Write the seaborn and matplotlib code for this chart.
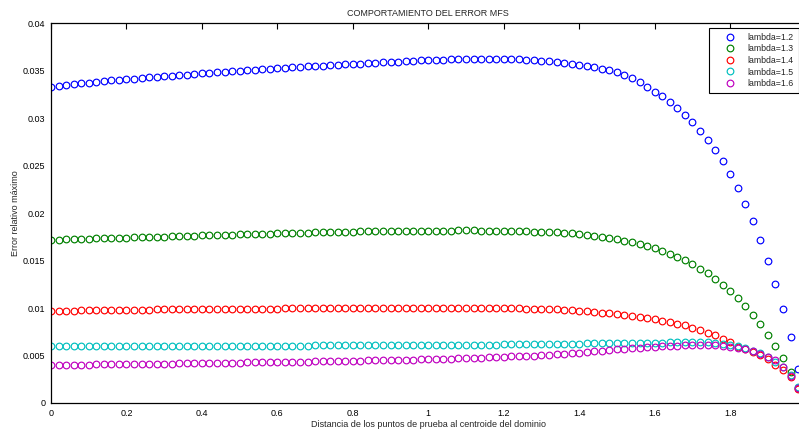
import numpy as np
import pandas as pd
import matplotlib
matplotlib.use("Agg")
import matplotlib.pyplot as plt
import seaborn as sns
from matplotlib.ticker import FormatStrFormatter, MultipleLocator

# Distance of the test points to the domain centroid (sampling grid)
distancia = np.linspace(0.0, 1.98, 100)

# Maximum relative error for each lambda
err_l12 = [
    0.03333, 0.03344, 0.03351, 0.03361, 0.03368, 0.03375, 0.03386, 0.03393, 0.03398, 0.03404,
    0.03411, 0.03418, 0.03425, 0.03432, 0.03438, 0.03442, 0.03447, 0.03454, 0.03460, 0.03466,
    0.03473, 0.03478, 0.03484, 0.03490, 0.03496, 0.03502, 0.03507, 0.03513, 0.03518, 0.03522,
    0.03527, 0.03533, 0.03537, 0.03541, 0.03547, 0.03551, 0.03555, 0.03558, 0.03562, 0.03566,
    0.03569, 0.03573, 0.03577, 0.03583, 0.03589, 0.03593, 0.03597, 0.03600, 0.03606, 0.03610,
    0.03614, 0.03616, 0.03618, 0.03621, 0.03622, 0.03624, 0.03625, 0.03626, 0.03627, 0.03626,
    0.03625, 0.03623, 0.03620, 0.03618, 0.03614, 0.03607, 0.03600, 0.03593, 0.03583, 0.03575,
    0.03565, 0.03551, 0.03537, 0.03522, 0.03503, 0.03482, 0.03453, 0.03422, 0.03382, 0.03332,
    0.03280, 0.03232, 0.03172, 0.03105, 0.03038, 0.02958, 0.02869, 0.02771, 0.02663, 0.02547,
    0.02410, 0.02262, 0.02100, 0.01921, 0.01721, 0.01499, 0.01257, 0.00990, 0.00692, 0.00358,
]
err_l13 = [
    0.01718, 0.01721, 0.01724, 0.01727, 0.01729, 0.01731, 0.01733, 0.01735, 0.01739, 0.01742,
    0.01743, 0.01746, 0.01747, 0.01749, 0.01753, 0.01754, 0.01756, 0.01760, 0.01761, 0.01763,
    0.01767, 0.01768, 0.01770, 0.01771, 0.01774, 0.01777, 0.01778, 0.01781, 0.01784, 0.01785,
    0.01788, 0.01789, 0.01791, 0.01795, 0.01796, 0.01798, 0.01799, 0.01802, 0.01803, 0.01805,
    0.01806, 0.01809, 0.01810, 0.01812, 0.01812, 0.01813, 0.01814, 0.01815, 0.01815, 0.01816,
    0.01816, 0.01817, 0.01817, 0.01817, 0.01818, 0.01818, 0.01818, 0.01817, 0.01817, 0.01816,
    0.01815, 0.01813, 0.01811, 0.01809, 0.01806, 0.01803, 0.01800, 0.01797, 0.01793, 0.01788,
    0.01781, 0.01772, 0.01763, 0.01752, 0.01742, 0.01727, 0.01710, 0.01693, 0.01675, 0.01654,
    0.01628, 0.01602, 0.01573, 0.01542, 0.01504, 0.01462, 0.01415, 0.01365, 0.01310, 0.01247,
    0.01180, 0.01107, 0.01019, 0.00927, 0.00829, 0.00720, 0.00604, 0.00471, 0.00327, 0.00161,
]
err_l14 = [
    0.00969, 0.00972, 0.00973, 0.00974, 0.00975, 0.00976, 0.00977, 0.00978, 0.00979, 0.00980,
    0.00981, 0.00982, 0.00983, 0.00984, 0.00985, 0.00986, 0.00986, 0.00987, 0.00988, 0.00989,
    0.00989, 0.00990, 0.00991, 0.00991, 0.00992, 0.00993, 0.00993, 0.00994, 0.00994, 0.00995,
    0.00995, 0.00996, 0.00996, 0.00997, 0.00997, 0.00998, 0.00998, 0.00998, 0.00999, 0.00999,
    0.00999, 0.01000, 0.01000, 0.01000, 0.01001, 0.01001, 0.01001, 0.01001, 0.01002, 0.01002,
    0.01002, 0.01002, 0.01002, 0.01002, 0.01002, 0.01002, 0.01001, 0.01001, 0.01000, 0.01000,
    0.00999, 0.00998, 0.00997, 0.00995, 0.00993, 0.00991, 0.00988, 0.00985, 0.00980, 0.00977,
    0.00973, 0.00966, 0.00959, 0.00952, 0.00944, 0.00937, 0.00927, 0.00917, 0.00906, 0.00896,
    0.00882, 0.00868, 0.00853, 0.00836, 0.00817, 0.00789, 0.00769, 0.00742, 0.00712, 0.00678,
    0.00640, 0.00593, 0.00565, 0.00537, 0.00502, 0.00460, 0.00404, 0.00344, 0.00270, 0.00151,
]
err_l15 = [
    0.00598, 0.00598, 0.00598, 0.00598, 0.00598, 0.00599, 0.00599, 0.00599, 0.00599, 0.00599,
    0.00600, 0.00600, 0.00600, 0.00600, 0.00600, 0.00601, 0.00601, 0.00601, 0.00601, 0.00601,
    0.00602, 0.00602, 0.00602, 0.00602, 0.00603, 0.00603, 0.00603, 0.00603, 0.00604, 0.00604,
    0.00604, 0.00604, 0.00605, 0.00605, 0.00605, 0.00606, 0.00606, 0.00606, 0.00607, 0.00607,
    0.00607, 0.00608, 0.00608, 0.00608, 0.00609, 0.00609, 0.00609, 0.00610, 0.00610, 0.00611,
    0.00611, 0.00612, 0.00612, 0.00613, 0.00613, 0.00614, 0.00614, 0.00615, 0.00616, 0.00616,
    0.00617, 0.00618, 0.00618, 0.00619, 0.00620, 0.00621, 0.00622, 0.00623, 0.00624, 0.00625,
    0.00626, 0.00627, 0.00628, 0.00629, 0.00630, 0.00631, 0.00632, 0.00633, 0.00634, 0.00635,
    0.00636, 0.00637, 0.00638, 0.00638, 0.00639, 0.00639, 0.00639, 0.00638, 0.00634, 0.00624,
    0.00613, 0.00599, 0.00577, 0.00549, 0.00522, 0.00483, 0.00436, 0.00376, 0.00293, 0.00171,
]
err_l16 = [
    0.00400, 0.00401, 0.00402, 0.00403, 0.00404, 0.00405, 0.00406, 0.00407, 0.00408, 0.00409,
    0.00410, 0.00411, 0.00412, 0.00413, 0.00414, 0.00415, 0.00416, 0.00417, 0.00418, 0.00419,
    0.00420, 0.00421, 0.00422, 0.00423, 0.00425, 0.00426, 0.00427, 0.00428, 0.00429, 0.00431,
    0.00432, 0.00433, 0.00434, 0.00436, 0.00437, 0.00438, 0.00440, 0.00441, 0.00442, 0.00444,
    0.00445, 0.00447, 0.00448, 0.00450, 0.00451, 0.00453, 0.00455, 0.00456, 0.00458, 0.00460,
    0.00462, 0.00464, 0.00466, 0.00468, 0.00470, 0.00472, 0.00475, 0.00477, 0.00480, 0.00482,
    0.00487, 0.00490, 0.00492, 0.00495, 0.00498, 0.00502, 0.00506, 0.00511, 0.00516, 0.00522,
    0.00529, 0.00537, 0.00544, 0.00551, 0.00558, 0.00565, 0.00571, 0.00577, 0.00583, 0.00588,
    0.00593, 0.00598, 0.00602, 0.00605, 0.00608, 0.00610, 0.00611, 0.00610, 0.00608, 0.00601,
    0.00593, 0.00583, 0.00568, 0.00545, 0.00516, 0.00488, 0.00448, 0.00374, 0.00281, 0.00158,
]

etiquetas = ["lambda=1.2", "lambda=1.3", "lambda=1.4", "lambda=1.5", "lambda=1.6"]
colores = ["#0000ff", "#008000", "#ff0000", "#00bfbf", "#bf00bf"]
series = [err_l12, err_l13, err_l14, err_l15, err_l16]
xticks = [0, 0.2, 0.4, 0.6, 0.8, 1.0, 1.2, 1.4, 1.6, 1.8]

df = pd.concat(
    [pd.DataFrame({"x": distancia, "err": s, "serie": lab}) for s, lab in zip(series, etiquetas)],
    ignore_index=True,
)

sns.set_theme(style="white")
plt.rcParams["font.family"] = ["Liberation Sans", "DejaVu Sans"]

W, H = 799, 430
fig = plt.figure(figsize=(W / 100, H / 100), dpi=100)
fig.patch.set_facecolor("white")
ax = fig.add_axes([51 / W, 27 / H, 754.6 / W, 379.7 / H])

sns.lineplot(
    data=df, x="x", y="err", hue="serie", hue_order=etiquetas, palette=colores,
    marker="o", linestyle="none", markersize=4.8, markeredgewidth=0.85,
    estimator=None, sort=False, legend=False, ax=ax,
)
for line, c in zip(ax.lines, colores):
    line.set_markeredgecolor(c)
    line.set_markerfacecolor("none")

ax.set_xlim(0, 2)
ax.set_ylim(0, 0.04)
ax.set_xticks(xticks)
ax.yaxis.set_major_locator(MultipleLocator(0.005))
ax.xaxis.set_major_formatter(FormatStrFormatter("%g"))
ax.yaxis.set_major_formatter(FormatStrFormatter("%g"))

for sp in ax.spines.values():
    sp.set_visible(True)
    sp.set_color("black")
    sp.set_linewidth(0.9)
ax.tick_params(direction="in", length=4.5, width=0.8, top=True, right=True,
               labelsize=6.5, colors="black", pad=4)

ax.set_title("COMPORTAMIENTO DEL ERROR MFS", fontsize=6.5, pad=5)
ax.set_xlabel("Distancia de los puntos de prueba al centroide del dominio", fontsize=6.5, labelpad=2)
ax.set_ylabel("Error relativo máximo", fontsize=6.5, labelpad=2)

leg = ax.legend(
    handles=ax.lines, labels=etiquetas, loc="upper right",
    bbox_to_anchor=(798.5 / W, (H - 28.3) / H), bbox_transform=fig.transFigure,
    fontsize=6.3, frameon=True, fancybox=False, edgecolor="black", framealpha=1,
    borderpad=0.5, handlelength=3.6, handletextpad=0.3, labelspacing=0.3, borderaxespad=0,
)
leg.get_frame().set_linewidth(0.8)

fig.savefig("out.png", dpi=100)
